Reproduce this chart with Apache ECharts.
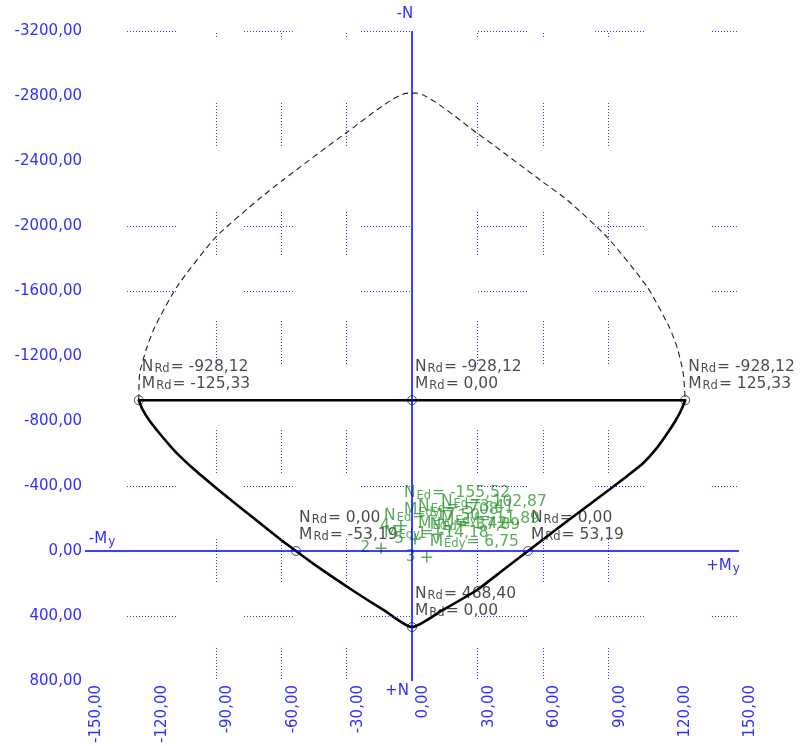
<!DOCTYPE html>
<html>
<head>
<meta charset="utf-8">
<script src="https://cdn.jsdelivr.net/npm/echarts@6/dist/echarts.min.js"></script>
<style>
  html, body { margin: 0; padding: 0; background: #ffffff; }
  #chart { width: 800px; height: 746px; }
</style>
</head>
<body>
<div id="chart"></div>
<script>
// Axis ranges (moment My in kNm horizontally, axial force N in kN vertically, compression up)
const mAxis = { min: -150, max: 150, step: 30 };
const nAxis = { min: -3200, max: 800, step: 400 };

// Dotted reference lines
const gridLinesM = [-90, -60, -30, 30, 60, 90];
const gridLinesN = [-3200, -2000, -1600, -400, 400];

// Outer (dashed) interaction envelope
const envM = [-125.33, -124.9, -121.7, -118.0, -107.9, -90.0, -70.2, -59.2, -30.3, -1.8,
              1.8, 29.8, 58.8, 71.2, 89.5, 107.9, 118.0, 121.7, 124.4, 125.33];
const envN = [-928.12, -1095, -1249, -1378, -1625, -1932, -2166, -2283, -2572, -2818,
              -2818, -2572, -2283, -2160, -1932, -1625, -1378, -1249, -1095, -928.12];

// Resistance curve (solid) below the cut-off level
const rdCurveM = [-125.33, -123.5, -120.3, -115.2, -108.8, -99.6, -90.4, -80.8, -69.8, -58.8, -53.19, -43.2, -27.5, -12.4, 0.0,
                  14.2, 29.8, 41.8, 53.19, 63.4, 72.5, 81.7, 90.9, 98.7, 106.1, 111.6, 116.6, 120.8, 123.5, 125.33];
const rdCurveN = [-928.12, -868, -800, -714, -615, -498, -394, -289, -172, -55, 0.0, 98, 240, 369, 468.40,
                  363, 240, 117, 0.0, -105, -197, -289, -382, -462, -542, -622, -714, -800, -868, -928.12];

// Cut-off line at the maximum compression level
const cutM = [-125.33, 0.0, 125.33];
const cutN = [-928.12, -928.12, -928.12];

// Characteristic resistance points with their labels
const rdPtM = [-125.33, 0.0, 125.33, -53.19, 53.19, 0.0];
const rdPtN = [-928.12, -928.12, -928.12, 0.0, 0.0, 468.40];

// Design load combinations
const edId = ['1', '2', '3', '4', '5'];
const edM = [11.89, -14.18, 6.75, -5.08, 1.42];
const edN = [-102.87, -17.50, 37.89, -155.52, -73.41];

const BLUE = '#2f2fff';
const AXIS_BLUE = '#0000ff';
const GREEN = '#2f962f';
const INK = '#1c1c1c';
const FONT = 'DejaVu Sans';

function fmt(v) {
  return v.toFixed(2).replace('.', ',');
}

// dotted dash pattern: n dots of 1px every 3px, followed by a long gap
function dotted(n, gap) {
  const arr = [];
  for (let i = 0; i < n; i++) { arr.push(1, 2); }
  arr[arr.length - 1] = gap;
  return arr;
}

const pair = (xs, ys) => xs.map((x, i) => [x, ys[i]]);

const richFor = color => ({
  a: { fontFamily: FONT, fontSize: 15.5, color: color, lineHeight: 17 },
  s: { fontFamily: FONT, fontSize: 11.5, color: color, lineHeight: 17, padding: [5, 1, 0, 1] }
});

const chart = echarts.init(document.getElementById('chart'), null, { renderer: 'canvas' });

const axisText = { fontFamily: FONT, fontSize: 15, color: BLUE };

chart.setOption({
  animation: false,
  backgroundColor: '#ffffff',
  grid: { left: 85, top: 31, width: 654, height: 650, containLabel: false },
  xAxis: {
    type: 'value',
    min: mAxis.min, max: mAxis.max, interval: mAxis.step,
    axisLine: { show: false },
    axisTick: { show: false },
    splitLine: { show: false },
    axisLabel: Object.assign({}, axisText, {
      rotate: 90, margin: 4, verticalAlign: 'top', padding: [4, 0, 0, 0],
      formatter: fmt
    })
  },
  yAxis: {
    type: 'value', inverse: true,
    min: nAxis.min, max: nAxis.max, interval: nAxis.step,
    axisLine: { show: false },
    axisTick: { show: false },
    splitLine: { show: false },
    axisLabel: Object.assign({}, axisText, { margin: 3, formatter: fmt })
  },
  series: [
    {
      // dotted reference lines and the two zero axes
      type: 'line', data: [], silent: true,
      markLine: {
        silent: true, symbol: 'none', animation: false,
        label: { show: false },
        data: gridLinesM.map(v => ({ xAxis: v, lineStyle: { color: BLUE, width: 1, type: dotted(15, 66), dashOffset: 37 } }))
          .concat(gridLinesN.map(v => ({ yAxis: v, lineStyle: { color: BLUE, width: 1, type: dotted(17, 68), dashOffset: 75 } })))
          .concat([
            { xAxis: 0, lineStyle: { color: AXIS_BLUE, width: 1.5, type: 'solid' } },
            { yAxis: 0, lineStyle: { color: AXIS_BLUE, width: 1.5, type: 'solid' } }
          ])
      },
      markPoint: {
        silent: true, symbol: 'circle', symbolSize: 0,
        data: [
          { coord: [0, nAxis.min], label: { formatter: '-N', offset: [-7, -17] } },
          { coord: [0, nAxis.max], label: { formatter: '+N', offset: [-15, 10] } },
          { coord: [mAxis.min, 0], label: { formatter: '{a|-M}{s|y}', offset: [17, -12] } },
          { coord: [mAxis.max, 0], label: { formatter: '{a|+M}{s|y}', offset: [-16, 15] } }
        ],
        label: {
          show: true, fontFamily: FONT, fontSize: 15, color: BLUE,
          rich: {
            a: { fontFamily: FONT, fontSize: 15, color: BLUE },
            s: { fontFamily: FONT, fontSize: 12, color: BLUE, padding: [6, 0, 0, 1] }
          }
        }
      }
    },
    {
      name: 'envelope', type: 'line', data: pair(envM, envN),
      smooth: 0.2, symbol: 'none', silent: true,
      lineStyle: { color: '#1e1e1e', width: 1.1, type: [6, 4] }
    },
    {
      name: 'resistance', type: 'line', data: pair(rdCurveM, rdCurveN),
      smooth: 0.2, symbol: 'none', silent: true,
      lineStyle: { color: '#000', width: 2.6, join: 'round', cap: 'round' }
    },
    {
      name: 'cutoff', type: 'line', data: pair(cutM, cutN),
      symbol: 'none', silent: true,
      lineStyle: { color: '#000', width: 2.6 }
    },
    {
      name: 'rd points', type: 'scatter', data: pair(rdPtM, rdPtN),
      symbol: 'circle', symbolSize: 9, silent: true,
      itemStyle: { color: 'rgba(0,0,0,0)', borderColor: '#222', borderWidth: 1 },
      label: {
        show: true, position: [8, -37], align: 'left', verticalAlign: 'top',
        rich: richFor(INK),
        formatter: p => '{a|N}{s|Rd}{a|= ' + fmt(p.value[1]) + '}\n{a|M}{s|Rd}{a|= ' + fmt(p.value[0]) + '}'
      }
    },
    {
      name: 'ed points', type: 'scatter', data: pair(edM, edN),
      symbol: 'path://M5,0 L5,10 M0,5 L10,5', symbolSize: 11, silent: true,
      itemStyle: { color: 'none', borderColor: GREEN, borderWidth: 1.5 },
      label: {
        show: true, position: [11, -33], align: 'left', verticalAlign: 'top',
        rich: richFor(GREEN),
        formatter: p => '{a|N}{s|Ed}{a|= ' + fmt(p.value[1]) + '}\n{a|M}{s|Edy}{a|= ' + fmt(p.value[0]) + '}'
      }
    },
    {
      name: 'ed ids', type: 'scatter', data: pair(edM, edN), symbolSize: 0, silent: true,
      label: {
        show: true, position: 'left', distance: 11,
        fontFamily: FONT, fontSize: 15.5, color: GREEN,
        formatter: p => edId[p.dataIndex]
      }
    }
  ]
});
</script>
</body>
</html>
